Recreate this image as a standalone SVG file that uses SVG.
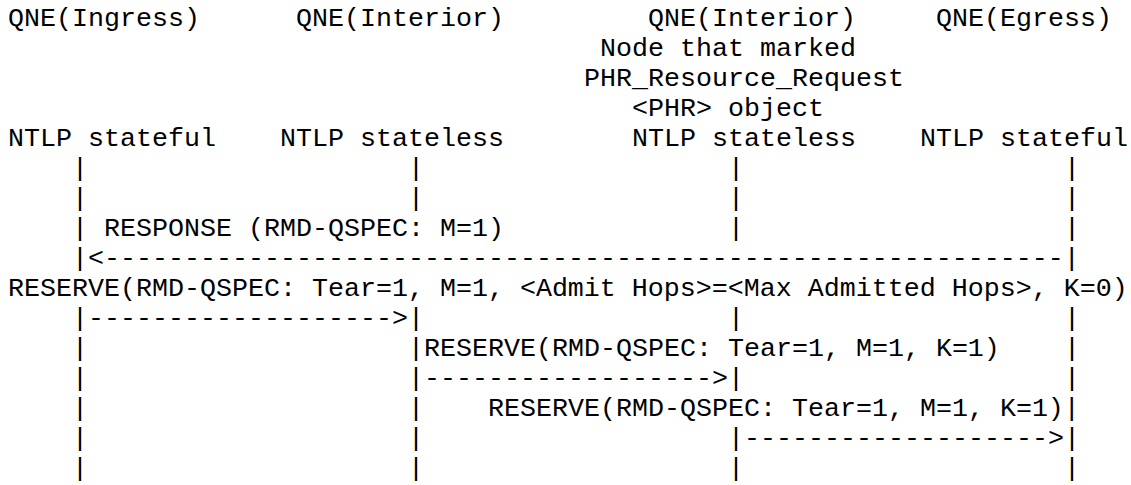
<svg xmlns="http://www.w3.org/2000/svg" width="1131" height="485" viewBox="0 0 1131 485">
<style>
text { font-family: "Liberation Mono", "Courier New", monospace; font-size: 26.67px; fill: #000; white-space: pre; }
</style>
<rect x="0" y="0" width="1131" height="485" fill="#fff"/>
<g id="node-ingress">
<text x="8" y="26">QNE(Ingress)</text>
<text x="8" y="146">NTLP stateful</text>
</g>
<g id="node-interior-1">
<text x="296" y="26">QNE(Interior)</text>
<text x="280" y="146">NTLP stateless</text>
</g>
<g id="node-interior-2">
<text x="648" y="26">QNE(Interior)</text>
<text x="600" y="56">Node that marked</text>
<text x="584" y="86">PHR_Resource_Request</text>
<text x="632" y="116">&lt;PHR&gt; object</text>
<text x="632" y="146">NTLP stateless</text>
</g>
<g id="node-egress">
<text x="936" y="26">QNE(Egress)</text>
<text x="920" y="146">NTLP stateful</text>
</g>
<g id="connectors">
<text x="72" y="176">|</text><text x="408" y="176">|</text><text x="728" y="176">|</text><text x="1064" y="176">|</text>
<text x="72" y="206">|</text><text x="408" y="206">|</text><text x="728" y="206">|</text><text x="1064" y="206">|</text>
<text x="72" y="236">|</text><text x="104" y="236">RESPONSE (RMD-QSPEC: M=1)</text><text x="728" y="236">|</text><text x="1064" y="236">|</text>
<text x="72" y="266">|&lt;------------------------------------------------------------|</text>
<text x="8" y="296">RESERVE(RMD-QSPEC: Tear=1, M=1, &lt;Admit Hops&gt;=&lt;Max Admitted Hops&gt;, K=0)</text>
<text x="72" y="326">|-------------------&gt;|</text><text x="728" y="326">|</text><text x="1064" y="326">|</text>
<text x="72" y="356">|</text><text x="408" y="356">|RESERVE(RMD-QSPEC: Tear=1, M=1, K=1)</text><text x="1064" y="356">|</text>
<text x="72" y="386">|</text><text x="408" y="386">|------------------&gt;|</text><text x="1064" y="386">|</text>
<text x="72" y="416">|</text><text x="408" y="416">|</text><text x="488" y="416">RESERVE(RMD-QSPEC: Tear=1, M=1, K=1)|</text>
<text x="72" y="446">|</text><text x="408" y="446">|</text><text x="728" y="446">|-------------------&gt;|</text>
<text x="72" y="476">|</text><text x="408" y="476">|</text><text x="728" y="476">|</text><text x="1064" y="476">|</text>
</g>
</svg>
